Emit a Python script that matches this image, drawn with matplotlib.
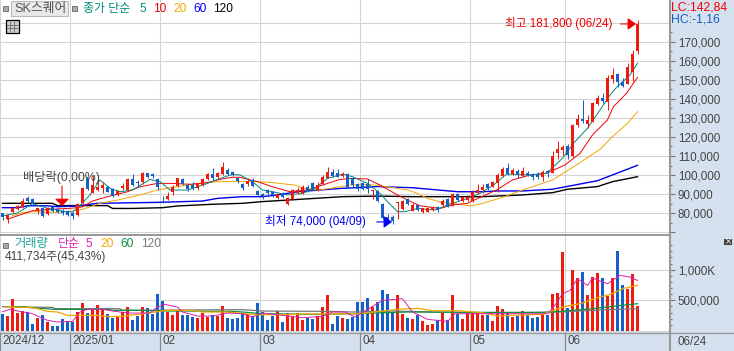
import numpy as np
import matplotlib
matplotlib.use('Agg')
from matplotlib import pyplot as plt
from matplotlib.patches import Rectangle
from matplotlib.transforms import ScaledTranslation

plt.rcParams['font.family'] = ['Liberation Sans', 'Noto Sans CJK KR', 'DejaVu Sans']

# prices in 1000 won, volume in 1000 shares
opens = [79.8,76.7,80.7,82.1,83.3,87.7,87.2,81.0,82.4,79.3,83.3,81.9,81.2,81.0,80.2,78.9,85.1,98.2,90.7,92.1,
         93.0,93.9,92.4,89.5,93.0,92.1,97.7,96.5,96.5,100.9,100.3,97.9,88.6,87.2,91.2,94.2,97.7,94.7,94.7,93.0,
         94.7,97.7,100.3,98.8,100.3,102.6,101.7,98.2,95.1,95.1,97.4,91.7,89.8,92.1,91.2,87.7,90.3,84.7,87.4,90.3,
         90.3,93.9,95.6,92.1,95.1,98.6,101.4,100.9,99.5,100.3,98.2,95.2,96.0,95.1,91.4,91.7,84.7,77.7,78.1,85.1,
         82.1,87.2,81.2,84.2,80.3,80.7,81.6,83.3,84.2,87.4,83.8,90.0,86.1,86.8,86.3,90.7,92.1,95.3,93.9,96.0,
         99.6,103.5,100.7,102.3,99.6,101.2,100.5,100.3,99.1,102.1,101.2,111.7,113.2,115.3,110.0,126.3,129.5,126.7,128.1,137.4,
         140.7,138.6,150.5,153.2,149.1,147.9,154.4,165.4]
closes = [77.7,78.9,82.8,83.7,86.3,86.3,84.7,82.4,78.4,82.8,81.0,80.5,79.8,78.9,78.4,84.7,93.0,92.4,94.7,93.9,
          94.7,91.2,88.9,91.6,94.2,97.7,94.7,95.6,101.2,98.8,99.6,93.9,88.2,88.9,93.9,98.2,95.1,92.4,93.3,95.1,
          97.7,100.5,98.2,100.9,104.4,100.5,99.8,97.0,93.0,97.0,94.2,89.5,89.0,90.3,89.5,89.8,88.6,87.7,92.1,92.1,
          93.9,91.7,92.6,94.7,99.1,101.4,99.6,99.1,100.5,93.3,94.7,92.4,92.6,92.4,92.1,86.3,77.2,76.8,75.8,85.9,
          86.3,84.5,84.2,81.6,82.4,82.4,83.0,81.6,86.3,83.3,89.8,86.8,88.2,88.2,91.2,92.1,93.5,93.0,96.3,99.8,
          103.2,100.3,102.6,100.5,102.1,100.2,99.1,99.1,101.8,100.9,110.0,113.5,114.9,110.5,126.3,129.5,128.6,129.0,137.7,140.4,
          139.0,150.9,152.6,148.8,146.8,156.7,163.5,179.5]
highs = [80.2,78.9,83.7,84.2,87.7,88.9,87.7,82.4,82.8,83.3,83.8,82.8,81.9,81.6,80.5,85.1,93.9,98.6,100.0,99.1,
         96.5,94.2,93.0,92.1,95.6,98.2,100.3,97.4,101.7,101.2,101.2,98.2,88.9,90.9,94.7,98.6,98.2,95.6,96.5,95.6,
         98.2,101.2,103.5,101.7,106.6,103.5,102.3,99.1,96.0,98.2,98.2,92.1,90.7,92.4,91.7,90.3,90.9,88.2,92.4,93.9,
         94.5,94.7,96.5,96.5,100.0,104.0,103.0,103.0,101.7,100.9,98.8,96.0,96.5,97.7,92.1,92.1,85.1,79.5,79.0,85.9,
         86.8,87.7,85.1,84.5,82.8,82.8,83.7,83.8,87.2,87.7,90.3,90.3,88.9,89.5,92.1,95.2,95.1,95.6,96.7,100.9,
         104.4,106.5,103.5,103.2,104.4,101.9,101.2,101.8,102.6,102.6,112.6,117.9,115.8,116.1,126.8,132.1,139.5,131.6,138.6,142.1,
         143.3,152.6,156.1,153.5,150.9,158.8,165.8,181.8]
lows = [76.3,74.9,79.8,81.6,82.4,85.1,84.2,79.5,78.1,78.9,80.7,80.2,78.9,78.6,76.7,78.6,84.7,92.1,90.3,91.7,
        90.3,90.9,88.6,89.1,92.1,91.7,94.2,93.9,95.1,98.2,98.2,92.1,85.4,86.8,89.5,93.9,94.5,91.7,92.1,92.1,
        94.2,97.4,97.4,98.2,100.0,99.8,99.5,95.6,92.1,94.2,93.9,89.1,87.2,89.5,88.6,87.2,87.7,84.2,86.8,90.0,
        89.8,91.2,92.1,91.7,94.7,98.2,99.1,98.8,98.8,93.0,93.9,91.7,92.1,90.3,87.2,85.6,76.8,75.0,74.0,76.7,
        81.6,84.2,80.9,81.0,80.2,80.5,81.0,80.7,83.7,83.0,83.5,86.3,85.6,86.3,85.8,90.0,90.7,92.1,93.5,91.2,
        99.1,100.0,100.0,98.2,99.1,99.5,97.4,97.9,96.8,99.1,100.9,108.4,110.5,108.4,109.3,125.1,127.5,124.6,127.8,136.8,
        137.7,134.2,148.2,146.1,146.1,147.9,149.5,163.7]
volumes = [282,244,521,293,320,310,114,212,255,147,81,81,195,163,147,310,456,293,342,424,
           353,277,212,244,310,391,179,244,391,375,282,603,489,310,261,326,261,261,228,212,
           293,228,261,244,407,212,195,212,282,282,244,456,310,179,244,326,147,293,244,293,
           179,212,195,244,391,586,114,244,212,195,228,472,472,538,391,472,668,603,310,586,
           277,212,195,261,163,98,114,179,293,179,586,277,195,293,293,293,255,261,163,407,
           358,293,228,244,326,261,212,228,277,261,603,619,1287,375,994,863,961,586,880,945,
           863,576,863,1303,749,690,929,412]

ma5_idx = [0,3,6,9,12,14,15.5,17.5,19.5,21.5,23.5,26,29.5,31.5,33.5,37,41,43.5,46,47.5,50,52,54,57,60,62.5,65,68,70,73,75.5,77,79,80.5,83,86.5,89,93,95.5,98.2,100.8,105.5,108.8,112,114.2,117,119.5,121.5,122.8,125.5,127]
ma5_val = [78.5,80,85,82.5,81,80.5,83.9,89.5,97.4,93,91.2,92.1,97.7,96.5,92.1,92.1,95.6,98.2,100.3,100,96.5,92.1,91.2,89.5,90.3,93,98.2,100.5,99.1,95.6,90.3,86,80.7,80.7,82.4,81.6,84.2,87.7,90.3,94.7,100.5,100,100.9,108.8,116.7,124.6,134.2,142.1,146.1,152.6,158.8]
ma10_idx = [1,3.5,6,9.5,13,15,16,18,21,25,27.5,31,34,37.5,41,43.5,46,47.5,51,54,57.5,61,64,67.5,70,73,75.5,79,81,83.5,87.5,90,93,95.5,98.8,102,105.5,108.8,112.5,115.5,118,121,122.2,124.8,127]
ma10_val = [76.7,79,81.2,81.9,82.4,82.8,83.3,86.3,88.6,91.2,93.8,95.6,95.6,95.1,96,97.7,98.8,98.8,96.5,93.8,91.2,92.1,94.7,97.7,98.2,97.9,94.7,89.5,86.8,83.8,82.4,84.2,85.1,88.2,92.1,97.4,100,100.9,105.3,111.4,121.1,129,136,143,151.4]
ma20_idx = [2,4,6,11,14,16,19.5,23,27.5,31,34,39.5,43,48,51,54,58.5,61,63.5,67.5,69.5,73,77,81,83,85,87.5,91,93.5,95.5,100,104,110,114,119.5,122,125,127]
ma20_val = [78.6,80.2,80.7,80.3,81,81.9,85.1,86.8,89.5,92.1,93.5,95.6,96.5,96.6,96.5,96,94.7,92.4,92.1,93.8,94.7,95.1,93.8,92.1,90.3,87.7,85.9,84.7,83.8,84.7,88.2,92.1,97.4,104,113.5,120.2,127.2,133.3]
ma60_idx = [0,3,5,9,11,15,19,31,40,43,48,52,55,59,68,75,82,91,96,99,104,110,119,127]
ma60_val = [82.8,82.8,83.8,83.8,83.3,83.7,85.1,85.6,86.3,87.7,88.6,88.6,89.5,91.2,93,93.9,93.3,91.2,91.2,91.6,91.6,92.5,97,105.1]
ma120_idx = [0,10,11,21,22,26,32,35,42,48,52,57,68,75,82,96,104,110,113,119,122,127]
ma120_val = [85.1,85.1,83.9,83.9,82.4,82.4,82.8,83.7,84.6,85.1,86,86.8,88.6,88.9,88.6,88.6,89.5,90.7,92.5,93.9,96.5,99.1]

vma5_idx = [0,1.5,3.5,6,9,11,14,15.5,17,20,22.5,25.5,29.5,31,32.5,35,36,39,42,45,48,50,52,56,60,64,66,68.5,70.5,73,76,80,82,85,89,90.5,96,109,110,112,113.5,115,117,118,121,123.5,125.5,127]
vma5_val = [315,353,320,282,174,147,157,310,353,353,320,293,293,391,434,391,310,244,244,293,282,228,293,255,217,239,310,310,228,353,500,527,310,190,157,282,282,282,364,608,662,853,744,863,771,907,880,825]
vma20_idx = [0.5,5.5,7,9,11,13,19,21.5,24.5,27.5,31.5,33,38,40,45,48.5,50.5,56,60,71,75.5,79.5,83,86,91,96,99,102,108,112,115.5,119,122,124,126,127]
vma20_val = [391,385,364,320,310,255,255,233,244,277,320,337,337,310,310,282,266,266,277,282,320,358,369,331,331,299,244,255,272,391,445,543,608,690,728,744]
vma60_idx = [2.5,4.5,5,10.5,21,22,27,33,38,40,46,48,52,61,70,81,96,108,111.5,118,122.5,127]
vma60_val = [396,396,385,353,353,337,337,326,326,320,320,310,282,272,282,310,304,304,320,364,407,445]
vma120_idx = [0,10,10.5,23.5,24,48,52,65.5,70,78,96,108,112,118,127]
vma120_val = [396,385,364,364,337,348,326,320,310,326,293,304,310,337,364]

month_pos = [-0.5,13.5,31.5,51.5,71.5,93.5,112.5]
month_labels = ['2024/12','2025/01','02','03','04','05','06']
price_ticks = [70,80,90,100,110,120,130,140,150,160,170,180]
price_labels = ['','80,000','90,000','100,000','110,000','120,000','130,000','140,000','150,000','160,000','170,000','']
volume_ticks = [500,1000]
volume_labels = ['500,000','1,000K']

W, H = 734, 351
STRIP = '#d6e1ef'
GRID = '#d4d4d4'
EDGE = '#999999'
RED = '#ee1c0e'
BLUE = '#1560c8'
TEXT = '#444444'


def px(x, y):
    return x / W, 1 - y / H


def label(x, y, s, color, size=8.4, ha='left', **kw):
    return fig.text(*px(x, y), s, color=color, fontsize=size, ha=ha, va='center', **kw)


def axes_px(x0, y0, x1, y1):
    a = fig.add_axes([x0 / W, 1 - y1 / H, (x1 - x0) / W, (y1 - y0) / H])
    return a


fig = plt.figure(figsize=(W / 100, H / 100), dpi=100, facecolor=STRIP)

opens, closes, highs, lows = map(np.array, (opens, closes, highs, lows))
xs = np.arange(len(opens))
up = closes >= opens
colors = np.where(up, RED, BLUE)

ax = axes_px(0, 0, 669, 234)
ax.set_xlim(-0.5, 133.3)
ax.set_ylim(68.95, 192.1)
ax.set_facecolor('white')
ax.set_xticks(month_pos)
ax.tick_params(axis='x', length=0, labelbottom=False)
ax.grid(True, color=GRID, lw=0.8)
ax.set_axisbelow(True)
ax.yaxis.tick_right()
ax.set_yticks(price_ticks)
ax.set_yticks([v for v in np.arange(70, 190, 5) if v % 10], minor=True)
ax.set_yticklabels(price_labels)
ax.tick_params(axis='y', which='major', length=4.3, width=0.8, color='#777777', labelsize=8.4, labelcolor=TEXT, pad=2)
ax.tick_params(axis='y', which='minor', length=2.2, width=0.8, color='#777777')
for s in ax.spines.values():
    s.set_visible(False)

ax.plot(ma120_idx, ma120_val, color='black', lw=1.0, zorder=3)
ax.plot(ma60_idx, ma60_val, color='#0000f0', lw=1.0, zorder=3)
ax.plot(ma20_idx, ma20_val, color='#f0a800', lw=0.7, zorder=3)
ax.plot(ma10_idx, ma10_val, color='#f00000', lw=0.7, zorder=3)
ax.plot(ma5_idx, ma5_val, color='#008878', lw=0.7, zorder=3)

ax.vlines(xs, lows, highs, colors=colors, lw=0.72, zorder=4)
ax.bar(xs, np.maximum(np.abs(closes - opens), 0.4), bottom=np.minimum(opens, closes), width=0.66,
       color=colors, zorder=5, antialiased=False)

small_head = '-|>,head_length=0.5,head_width=0.36'
ax.annotate('', xy=(126.7, 179.5), xytext=(-11, 0), textcoords='offset points',
            arrowprops=dict(arrowstyle=small_head, color='#f00000', lw=0.8, mutation_scale=10, shrinkA=0, shrinkB=0), zorder=6)
ax.annotate('', xy=(77.9, 75.3), xytext=(-11, 0), textcoords='offset points',
            arrowprops=dict(arrowstyle=small_head, color='#0000f0', lw=0.8, mutation_scale=10, shrinkA=0, shrinkB=0), zorder=6)
ax.annotate('', xy=(11.9, 83.7), xytext=(0, 14.4), textcoords='offset points',
            arrowprops=dict(arrowstyle='-|>,head_length=0.43,head_width=0.43', color='#f00000', lw=0.8, mutation_scale=10, shrinkA=0, shrinkB=0), zorder=6)

axv = axes_px(0, 236, 669, 332)
axv.set_xlim(-0.5, 133.3)
axv.set_ylim(-16, 1549)
axv.set_facecolor('white')
axv.grid(True, color=GRID, lw=0.8)
axv.set_axisbelow(True)
axv.axhline(0, color=GRID, lw=0.8, zorder=1)
axv.bar(xs, volumes, width=0.62, color=colors, zorder=3, antialiased=False)
axv.plot(vma120_idx, vma120_val, color='#777777', lw=0.9, zorder=4)
axv.plot(vma60_idx, vma60_val, color='#109040', lw=0.9, zorder=4)
axv.plot(vma20_idx, vma20_val, color='#f0a800', lw=0.9, zorder=4)
axv.plot(vma5_idx, vma5_val, color='#e020b0', lw=0.7, zorder=5)
axv.yaxis.tick_right()
axv.set_yticks(volume_ticks)
axv.set_yticklabels(volume_labels)
axv.set_yticks([v for v in range(100, 1600, 100) if v % 500], minor=True)
axv.tick_params(axis='y', which='major', length=4.3, width=0.8, color='#777777', labelsize=8.4, labelcolor=TEXT, pad=2)
axv.tick_params(axis='y', which='minor', length=2.2, width=0.8, color='#777777')
axv.set_xticks(month_pos)
axv.set_xticklabels(month_labels)
axv.tick_params(axis='x', length=14, width=0.9, color='#888888', direction='out',
                labelsize=8.4, labelcolor=TEXT, pad=-11.5)
for t in axv.get_xticklabels():
    t.set_ha('left')
    t.set_transform(t.get_transform() + ScaledTranslation(1.5 / 72, 0, fig.dpi_scale_trans))
for s in axv.spines.values():
    s.set_visible(False)

# frame lines
fig.add_artist(plt.Line2D([0, 669 / W], [1 - 235 / H] * 2, color=EDGE, lw=1.4))
fig.add_artist(plt.Line2D([0, 1], [1 - 333 / H] * 2, color=EDGE, lw=1.0))
fig.add_artist(plt.Line2D([669.5 / W] * 2, [0, 1], color=EDGE, lw=1.5))
fig.add_artist(Rectangle(px(670.5, 26), 64 / W, 26 / H, transform=fig.transFigure, fc=STRIP, ec='none', zorder=8))

label(671, 7, 'LC:142,84', '#f00000', 8.8, zorder=9)
label(671, 19, 'HC:-1,16', BLUE, 8.8, zorder=9)
label(677, 342, '06/24', TEXT, 8.4)

# top legend
fig.add_artist(Rectangle(px(3, 11), 5 / W, 5 / H, transform=fig.transFigure, fc='#aaaaaa', ec='#777777', lw=0.7, zorder=8))
fig.add_artist(Rectangle(px(10.5, 15.5), 57 / W, 14 / H, transform=fig.transFigure, fc='#e8e8e8', ec='#bbbbbb', lw=0.8, zorder=8))
label(14, 9, 'SK스퀘어', '#555555', 9.2, zorder=9)
fig.add_artist(Rectangle(px(72, 11), 5 / W, 5 / H, transform=fig.transFigure, fc='#aaaaaa', ec='#777777', lw=0.7, zorder=8))
label(83, 9, '종가 단순', '#008878', 8.6, zorder=9)
label(139, 9, '5', '#008878', 8.6, zorder=9)
label(153, 9, '10', '#f00000', 8.6, zorder=9)
label(173, 9, '20', '#f0a800', 8.6, zorder=9)
label(193, 9, '60', '#0000f0', 8.6, zorder=9)
label(213, 9, '120', 'black', 8.6, zorder=9)
fig.add_artist(Rectangle(px(5.5, 32.5), 13 / W, 13 / H, transform=fig.transFigure, fc='#cccccc', ec='black', lw=0.9, zorder=8))
for gx in (9.5, 13.5):
    fig.add_artist(plt.Line2D([gx / W] * 2, [1 - 22 / H, 1 - 31 / H], color='#777777', lw=0.7, zorder=9))
for gy in (24.5, 28):
    fig.add_artist(plt.Line2D([7 / W, 17 / W], [1 - gy / H] * 2, color='#777777', lw=0.7, zorder=9))

# volume legend
fig.add_artist(Rectangle(px(3, 248), 5 / W, 5 / H, transform=fig.transFigure, fc='#aaaaaa', ec='#777777', lw=0.7, zorder=8))
label(14, 244, '거래량', '#20a098', 8.8, zorder=9)
label(58, 244, '단순', '#e020b0', 8.6, zorder=9)
label(86, 244, '5', '#e020b0', 8.6, zorder=9)
label(100, 244, '20', '#f0a800', 8.6, zorder=9)
label(120, 244, '60', '#109040', 8.6, zorder=9)
label(141, 244, '120', '#777777', 8.6, zorder=9)
label(5, 257, '411,734주(45,43%)', TEXT, 8.6, zorder=9)

# annotations
label(505, 24, '최고 181,800 (06/24)', '#f00000', 8.4, zorder=9)
label(265, 221, '최저 74,000 (04/09)', '#0000f0', 8.4, zorder=9)
label(23, 177, '배당락(0,00%)', TEXT, 8.8, zorder=9)

# close button
fig.add_artist(Rectangle(px(724, 245), 8 / W, 6 / H, transform=fig.transFigure, fc='#444444', ec='none', zorder=8))
label(728, 242, '×', 'white', 6, ha='center', zorder=9, family='DejaVu Sans')

fig.savefig('out.png', dpi=100, facecolor=fig.get_facecolor())
